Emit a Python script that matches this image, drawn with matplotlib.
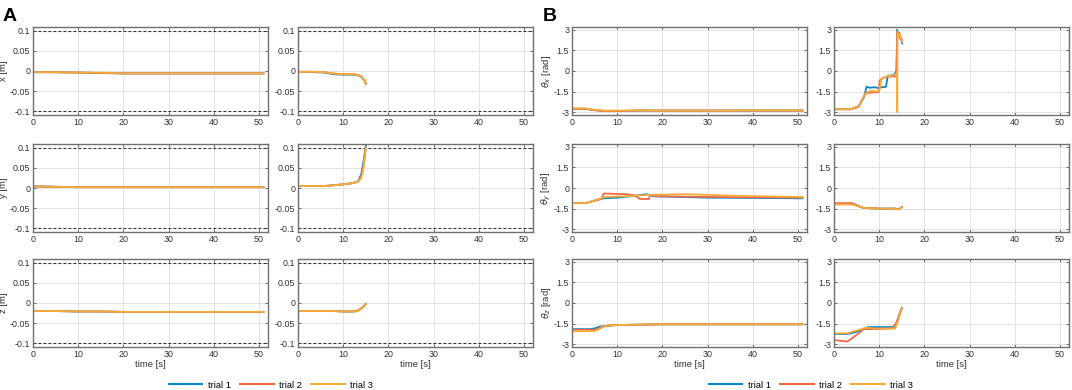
import matplotlib
matplotlib.use('Agg')
import matplotlib.pyplot as plt
from matplotlib.lines import Line2D

plt.rcParams['font.family'] = ['Liberation Sans', 'DejaVu Sans']
plt.rcParams['mathtext.fontset'] = 'dejavusans'

trial_names = ['trial 1', 'trial 2', 'trial 3']
colors = ['#0a85cc', '#f06a45', '#f7ac3a']

# ---- panel A, long trials (0..51 s) ----
t_long = [0, 5, 10, 15, 20, 25, 30, 35, 40, 45, 51]
x_long = [
    [-0.003, -0.003, -0.004, -0.005, -0.006, -0.006, -0.006, -0.006, -0.006, -0.006, -0.006],
    [-0.003, -0.003, -0.004, -0.005, -0.006, -0.006, -0.006, -0.006, -0.006, -0.006, -0.006],
    [-0.003, -0.003, -0.004, -0.004, -0.006, -0.006, -0.006, -0.006, -0.006, -0.006, -0.006],
]
y_long = [
    [0.004, 0.003, 0.002, 0.002, 0.002, 0.002, 0.002, 0.002, 0.002, 0.002, 0.002],
    [0.004, 0.003, 0.002, 0.002, 0.002, 0.002, 0.002, 0.002, 0.002, 0.002, 0.002],
    [0.004, 0.003, 0.002, 0.002, 0.002, 0.002, 0.002, 0.002, 0.002, 0.002, 0.002],
]
z_long = [
    [-0.020, -0.020, -0.021, -0.021, -0.022, -0.022, -0.022, -0.022, -0.022, -0.022, -0.022],
    [-0.020, -0.020, -0.021, -0.021, -0.022, -0.022, -0.022, -0.022, -0.022, -0.022, -0.022],
    [-0.020, -0.020, -0.021, -0.021, -0.022, -0.022, -0.022, -0.022, -0.022, -0.022, -0.022],
]

# ---- panel A, short trials (0..15 s) ----
t_short = [0, 2, 4, 6, 8, 10, 12, 13, 13.5, 14, 14.5, 14.8, 15]
x_short = [
    [-0.002, -0.002, -0.003, -0.004, -0.008, -0.009, -0.009, -0.010, -0.012, -0.015, -0.021, -0.026, -0.031],
    [-0.002, -0.002, -0.002, -0.003, -0.007, -0.008, -0.008, -0.009, -0.011, -0.014, -0.020, -0.025, -0.032],
    [-0.002, -0.002, -0.002, -0.003, -0.006, -0.008, -0.008, -0.009, -0.011, -0.014, -0.020, -0.026, -0.033],
]
y_short = [
    [0.005, 0.005, 0.005, 0.005, 0.007, 0.009, 0.012, 0.015, 0.020, 0.035, 0.065, 0.090, 0.105],
    [0.005, 0.005, 0.005, 0.005, 0.007, 0.009, 0.012, 0.015, 0.018, 0.028, 0.055, 0.080, 0.100],
    [0.005, 0.005, 0.005, 0.005, 0.007, 0.009, 0.012, 0.015, 0.018, 0.026, 0.050, 0.078, 0.100],
]
z_short = [
    [-0.020, -0.020, -0.020, -0.020, -0.020, -0.021, -0.021, -0.020, -0.017, -0.013, -0.008, -0.004, -0.002],
    [-0.020, -0.020, -0.020, -0.020, -0.020, -0.021, -0.021, -0.020, -0.018, -0.014, -0.009, -0.005, -0.002],
    [-0.020, -0.020, -0.020, -0.020, -0.020, -0.021, -0.021, -0.021, -0.018, -0.014, -0.009, -0.005, -0.002],
]

# ---- panel B, long trials ----
tb_long = [
    [0, 3, 5, 7, 10, 15, 17, 20, 30, 40, 51],
    [0, 3, 5, 7, 10, 15, 16, 17, 20, 30, 51],
    [0, 3, 5, 7, 10, 15, 17, 20, 30, 40, 51],
]
thx_long = [
    [-2.75, -2.75, -2.85, -2.90, -2.90, -2.90, -2.88, -2.88, -2.88, -2.88, -2.88],
    [-2.75, -2.75, -2.85, -2.92, -2.92, -2.85, -2.85, -2.88, -2.88, -2.88, -2.88],
    [-2.72, -2.72, -2.82, -2.88, -2.88, -2.88, -2.88, -2.88, -2.88, -2.87, -2.87],
]
tb_y_long = [
    [0, 3, 6, 7, 10, 13, 16.5, 18, 30, 40, 51],
    [0, 3, 6.5, 7, 12, 14, 15, 17, 17.3, 18.5, 30, 51],
    [0, 3, 6, 7, 12, 17, 25, 35, 45, 51],
]
thy_long = [
    [-1.10, -1.10, -0.82, -0.75, -0.70, -0.60, -0.45, -0.60, -0.70, -0.72, -0.75],
    [-1.10, -1.10, -0.80, -0.40, -0.45, -0.55, -0.80, -0.80, -0.50, -0.60, -0.65, -0.70],
    [-1.10, -1.10, -0.80, -0.65, -0.60, -0.50, -0.45, -0.55, -0.62, -0.65],
]
tb_z_long = [
    [0, 4, 5, 6, 8, 10, 20, 30, 40, 51],
    [0, 5, 6.5, 8, 10, 20, 30, 51],
    [0, 5, 6, 7.5, 10, 20, 30, 51],
]
thz_long = [
    [-1.90, -1.90, -1.85, -1.72, -1.65, -1.60, -1.55, -1.55, -1.55, -1.55],
    [-1.95, -1.95, -1.75, -1.65, -1.60, -1.55, -1.55, -1.55],
    [-2.05, -2.05, -1.90, -1.65, -1.60, -1.55, -1.55, -1.55],
]

# ---- panel B, short trials ----
tbx_short = [
    [0, 3.8, 5.5, 6.7, 7.2, 8, 9, 9.9, 10.2, 11.5, 11.9, 13.3, 13.8, 14.0, 14.1, 14.4, 14.7, 15.1],
    [0, 3.8, 5.5, 6.8, 7.5, 8.5, 9.9, 10.1, 10.8, 12, 13.5, 13.9, 14.0, 14.3, 14.6, 15.0],
    [0, 3.8, 5.5, 6.7, 7.5, 8.5, 10, 10.5, 11.5, 13.5, 13.9, 14.0, 14.05, 14.3, 14.6, 15.1],
]
thx_short = [
    [-2.78, -2.78, -2.55, -1.85, -1.15, -1.22, -1.18, -1.25, -1.20, -1.15, -0.35, -0.30, 0.00, 3.00, 2.60, 2.80, 2.50, 2.00],
    [-2.78, -2.78, -2.60, -1.70, -1.60, -1.55, -1.55, -0.70, -0.50, -0.40, -0.40, -0.20, 2.80, 2.50, 2.40, 2.30],
    [-2.78, -2.78, -2.55, -1.75, -1.50, -1.45, -1.50, -0.60, -0.40, -0.30, -0.10, -3.00, 2.90, 2.40, 2.70, 2.10],
]
tby_short = [
    [0, 4, 6.5, 10, 13.5, 14.3, 15],
    [0, 4, 6.5, 10, 13.5, 14.3, 15],
    [0, 4, 6.5, 10, 13.5, 14.3, 15],
]
thy_short = [
    [-1.15, -1.15, -1.45, -1.50, -1.50, -1.55, -1.40],
    [-1.10, -1.10, -1.45, -1.50, -1.50, -1.55, -1.40],
    [-1.20, -1.20, -1.45, -1.50, -1.50, -1.55, -1.42],
]
tbz_short = [
    [0, 3, 5, 6.5, 7.5, 13, 13.7, 14.5, 15],
    [0, 3, 5.5, 6.5, 8, 13, 14, 14.6, 15],
    [0, 3, 5, 7, 9, 13.5, 14.2, 14.7, 15],
]
thz_short = [
    [-2.25, -2.25, -2.10, -1.90, -1.75, -1.75, -1.60, -0.80, -0.40],
    [-2.70, -2.80, -2.20, -1.90, -1.90, -1.85, -1.30, -0.70, -0.35],
    [-2.20, -2.20, -2.00, -1.80, -1.85, -1.85, -1.30, -0.70, -0.40],
]

FS = 6.4
fig = plt.figure(figsize=(10.72, 3.9), dpi=100)
W, H = 1072.0, 390.0
col_left = [33, 298, 572, 834]
row_top = [27, 144, 259]
aw, ah = 235, 88


def make_ax(col, row):
    ax = fig.add_axes([col_left[col] / W, 1 - (row_top[row] + ah) / H, aw / W, ah / H])
    ax.set_xlim(0, 52)
    ax.set_xticks([0, 10, 20, 30, 40, 50])
    ax.grid(True, color='#e3e3e3', linewidth=0.7)
    ax.set_axisbelow(True)
    ax.tick_params(direction='in', length=2.5, width=0.6, labelsize=FS,
                   colors='#555555', labelcolor='#333333', top=True, right=True, pad=2)
    for s in ax.spines.values():
        s.set_color('#707070')
        s.set_linewidth(1.0)
    return ax


a_long = [x_long, y_long, z_long]
a_short = [x_short, y_short, z_short]
a_labels = ['x [m]', 'y [m]', 'z [m]']
for r in range(3):
    for c, (tt, data) in enumerate([(t_long, a_long[r]), (t_short, a_short[r])]):
        ax = make_ax(c, r)
        ax.set_ylim(-0.109, 0.109)
        ax.set_yticks([-0.1, -0.05, 0, 0.05, 0.1])
        ax.set_yticklabels(['-0.1', '-0.05', '0', '0.05', '0.1'])
        for lim in (0.1, -0.1):
            ax.axhline(lim, color='#333333', linestyle=(0, (2.5, 2)), linewidth=0.8)
        for k in range(3):
            ax.plot(tt, data[k], color=colors[k], linewidth=1.3)
        if c == 0:
            ax.set_ylabel(a_labels[r], fontsize=FS + 0.4, color='#333333')
            ax.yaxis.set_label_coords(-25 / aw, 0.5)
        if r == 2:
            ax.set_xlabel('time [s]', fontsize=FS + 0.4, color='#333333', labelpad=1)

b_long = [(tb_long, thx_long), (tb_y_long, thy_long), (tb_z_long, thz_long)]
b_short = [(tbx_short, thx_short), (tby_short, thy_short), (tbz_short, thz_short)]
b_labels = [r'$\theta_x$ [rad]', r'$\theta_y$ [rad]', r'$\theta_z$ [rad]']
for r in range(3):
    for c, (tt, data) in enumerate([b_long[r], b_short[r]]):
        ax = make_ax(c + 2, r)
        ax.set_ylim(-3.2, 3.2)
        ax.set_yticks([-3, -1.5, 0, 1.5, 3])
        ax.set_yticklabels(['-3', '-1.5', '0', '1.5', '3'])
        for k in range(3):
            ax.plot(tt[k], data[k], color=colors[k], linewidth=1.3)
        if c == 0:
            ax.set_ylabel(b_labels[r], fontsize=FS + 0.4, color='#333333')
            ax.yaxis.set_label_coords(-19 / aw, 0.5)
        if r == 2:
            ax.set_xlabel('time [s]', fontsize=FS + 0.4, color='#333333', labelpad=1)

fig.text(3 / W, 1 - 21 / H, 'A', fontsize=14, fontweight='bold')
fig.text(543 / W, 1 - 21 / H, 'B', fontsize=14, fontweight='bold')

handles = [Line2D([], [], color=colors[k], linewidth=1.5) for k in range(3)]
for cx in (271, 811):
    fig.legend(handles, trial_names, loc='center', bbox_to_anchor=(cx / W, 1 - 385 / H),
               ncol=3, frameon=False, fontsize=FS + 0.3, handlelength=3.6, columnspacing=1.0,
               handletextpad=0.6, borderpad=0)

fig.savefig('out.png', dpi=100)
